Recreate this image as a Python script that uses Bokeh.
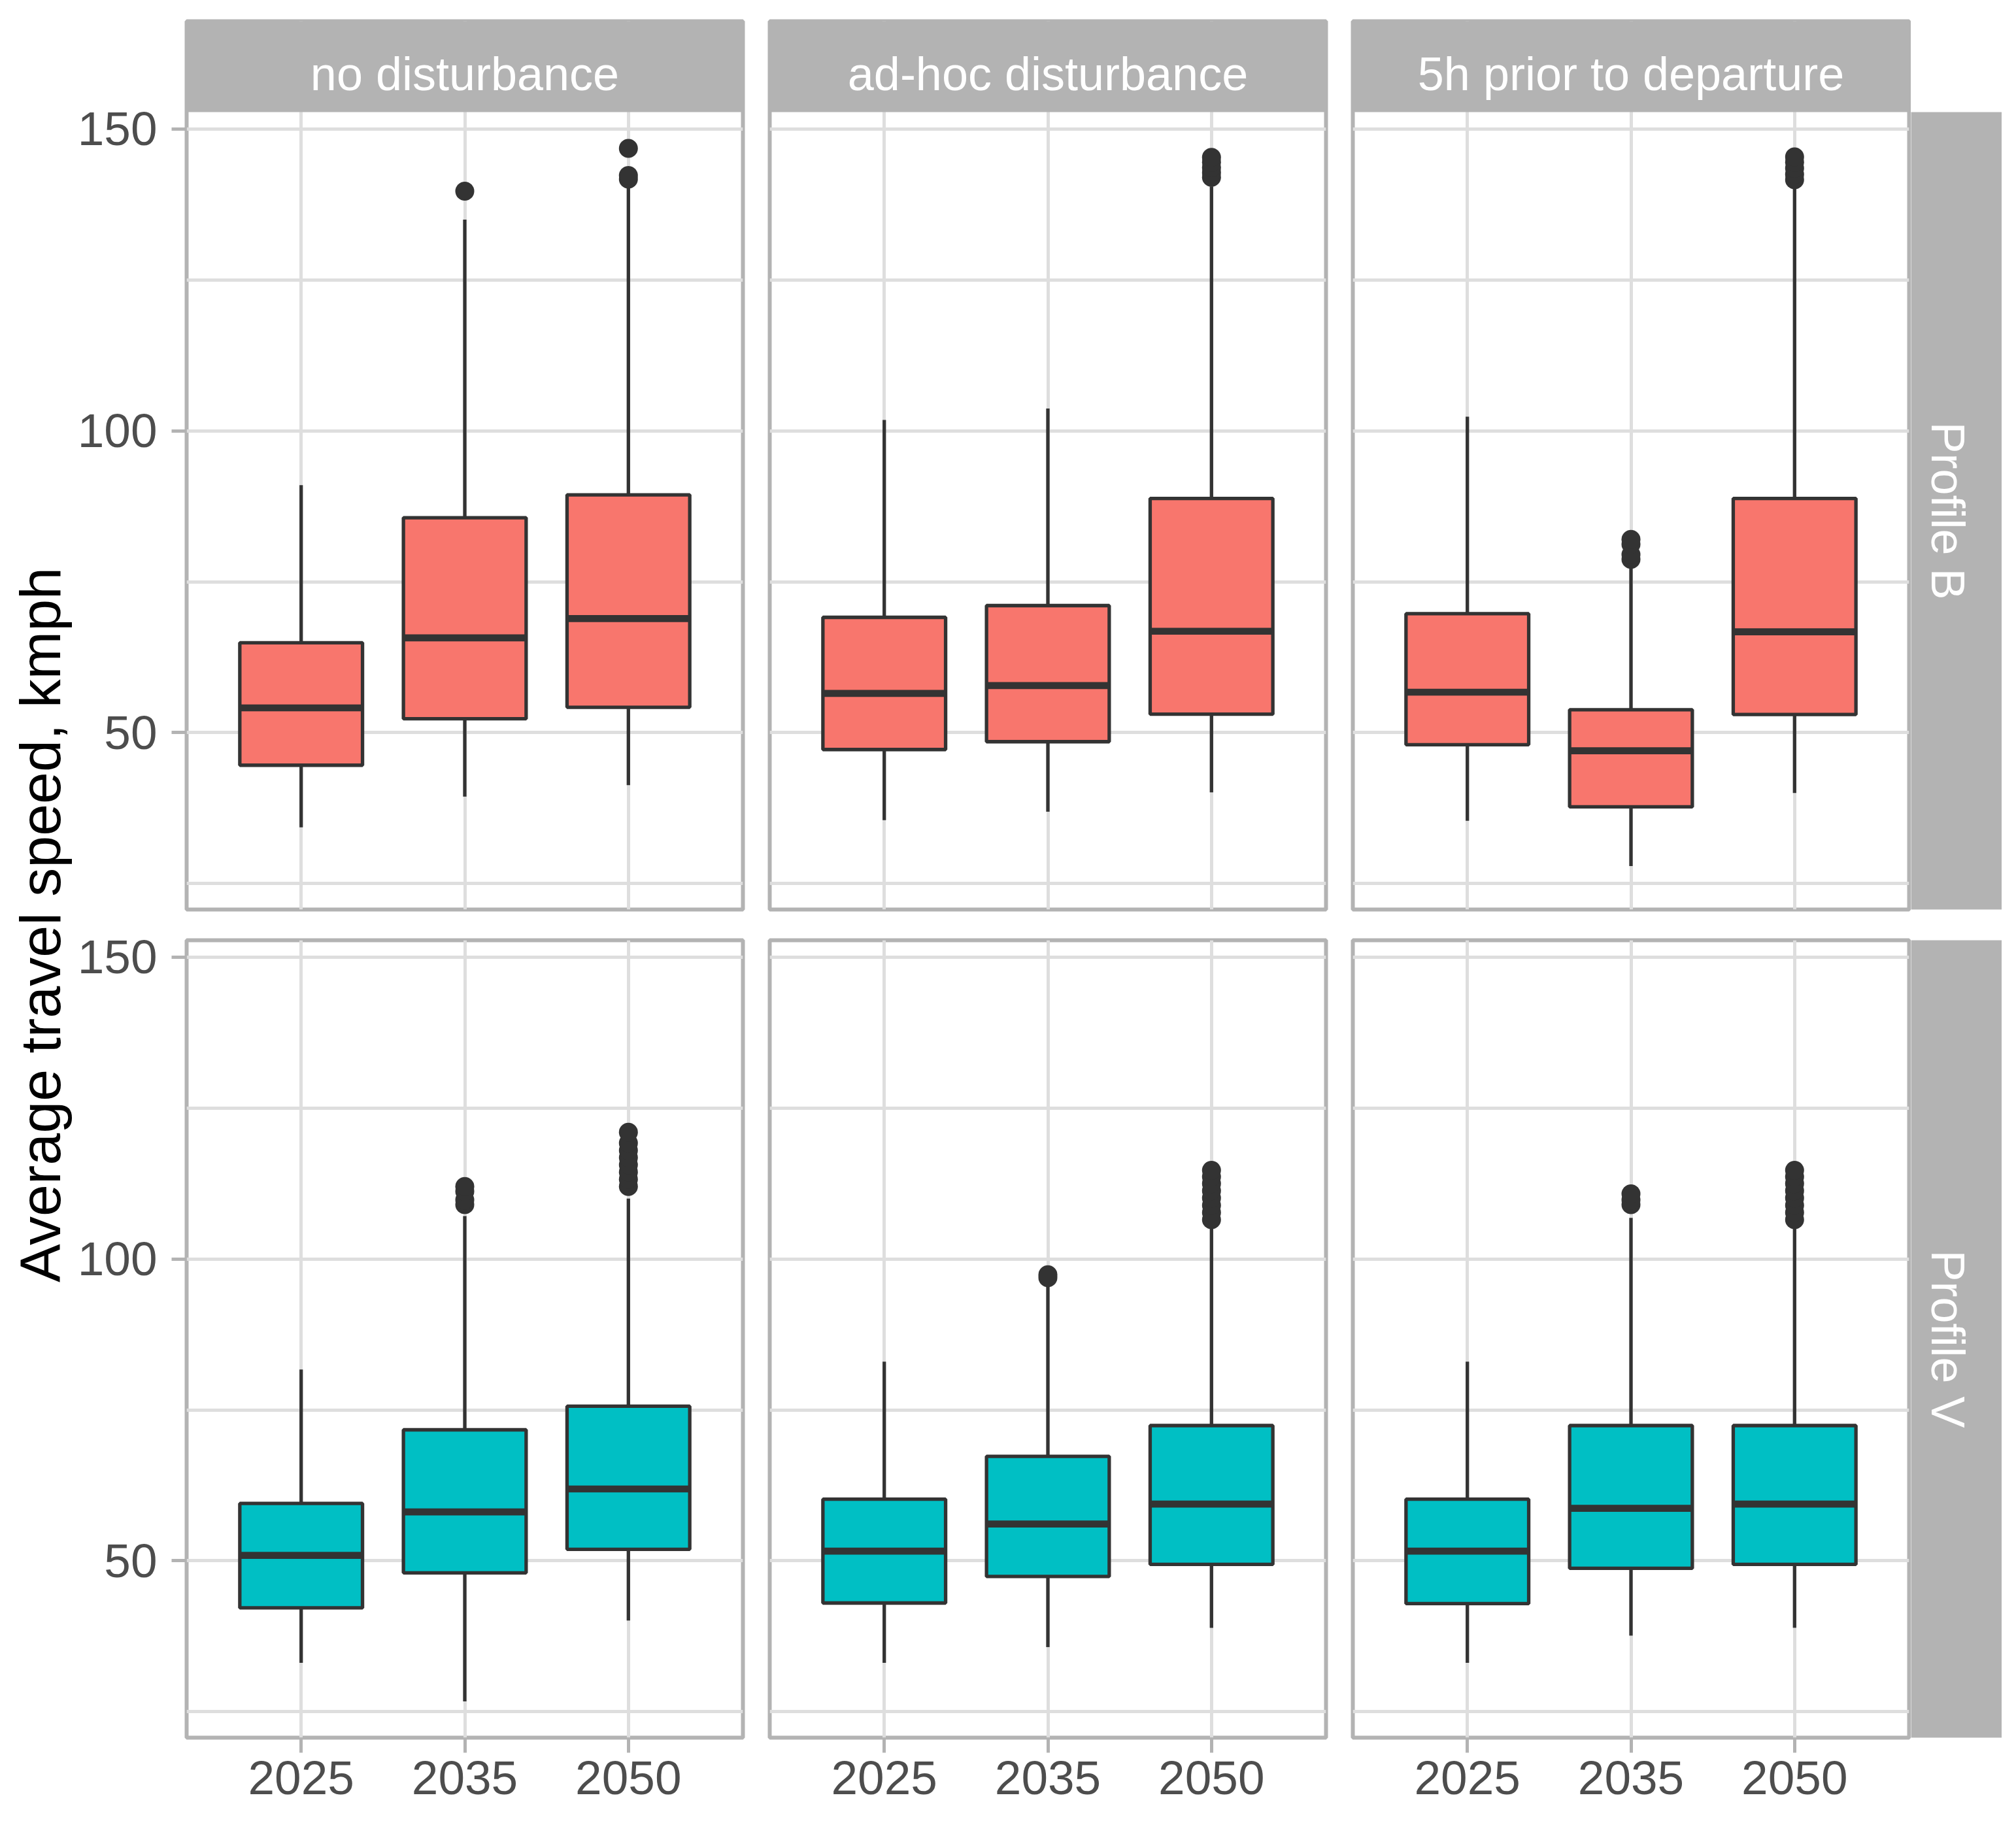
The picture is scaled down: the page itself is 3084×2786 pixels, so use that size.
import math
from bokeh.plotting import figure
from bokeh.models import Range1d, FactorRange, FixedTicker, ColumnDataSource, Spacer
from bokeh.layouts import row, column
from bokeh.transform import dodge
from bokeh.core.properties import value
from bokeh.embed import file_html
from bokeh.resources import INLINE

# ---------------- data ----------------
years = ["2025", "2035", "2050"]
disturbances = ["no disturbance", "ad-hoc disturbance", "5h prior to departure"]
profiles = ["Profile B", "Profile V"]
profile_colors = ["#F8766D", "#00BFC4"]
y_title = "Average travel speed, kmph"
y_ticks = [50, 100, 150]
y_minor_ticks = [25, 75, 125]

# box statistics, indexed [profile][disturbance][year]
lower = [
    [[34.3, 39.4, 41.3], [35.5, 36.9, 40.1], [35.4, 27.9, 40.0]],
    [[33.1, 26.7, 40.1], [33.1, 35.7, 38.9], [33.1, 37.6, 38.9]],
]
q1 = [
    [[44.6, 52.3, 54.2], [47.2, 48.5, 53.05], [48.0, 37.7, 53.0]],
    [[42.2, 48.0, 51.9], [43.0, 47.4, 49.4], [42.9, 48.75, 49.4]],
]
median = [
    [[54.1, 65.7, 68.9], [56.5, 57.8, 66.8], [56.7, 47.0, 66.7]],
    [[50.9, 58.1, 61.9], [51.6, 56.1, 59.4], [51.6, 58.7, 59.4]],
]
q3 = [
    [[64.9, 85.6, 89.4], [69.1, 71.05, 88.8], [69.7, 53.8, 88.8]],
    [[59.5, 71.7, 75.6], [60.2, 67.3, 72.4], [60.2, 72.4, 72.4]],
]
upper = [
    [[91.0, 135.0, 140.5], [101.8, 103.7, 140.5], [102.35, 77.5, 140.3]],
    [[81.7, 107.1, 110.0], [83.0, 95.8, 105.3], [83.0, 106.8, 105.3]],
]
outliers = [
    [
        [[], [139.7], [141.7, 142.3, 146.8]],
        [[], [], [142.0, 142.8, 143.6, 144.5, 145.3]],
        [[], [78.7, 79.5, 81.2, 82.0], [141.6, 142.5, 143.5, 144.5, 145.4]],
    ],
    [
        [[], [109.0, 109.8, 111.2, 112.0],
         [112.0, 113.2, 114.4, 115.6, 116.8, 118.0, 119.2, 121.0]],
        [[], [96.9, 97.4],
         [106.5, 107.7, 108.9, 110.1, 111.3, 112.5, 113.6, 114.7]],
        [[], [109.0, 109.8, 110.8],
         [106.5, 107.7, 108.9, 110.1, 111.3, 112.5, 113.6, 114.7]],
    ],
]

# ---------------- style / layout ----------------
FONT = "Liberation Sans"
LINE = "#333333"
GRID = "#DEDEDE"
BORDER = "#B3B3B3"
STRIP_BG = "#B3B3B3"
TICK_TXT = "#4D4D4D"

FRAME_W, FRAME_H = 851, 1220
STRIP = 139          # strip thickness
TOP = 32             # space above the top strips
LEFT = 171           # room for the y axis
BOTTOM = 122         # room for the x axis
YLAB_W = 114         # room for the y title
GAP_R, GAP_L = 20, 21  # horizontal gap between panels (split)
ROW1_BOTTOM, ROW2_TOP = 4, 43  # vertical gap between rows (split)
LAST_R = 3

# shared scales
vals = [v for arr in (lower, upper) for pr in arr for d in pr for v in d]
vals += [v for pr in outliers for d in pr for yl in d for v in yl]
vmin, vmax = min(vals), max(vals)
pad = 0.05 * (vmax - vmin)
y0, y1 = vmin - pad, vmax + pad
ppu = FRAME_H / (y1 - y0)                # pixels per data unit
y1_strip = y1 + STRIP / ppu              # top row frames also hold the strip
x_range = FactorRange(factors=years, range_padding=0.2, range_padding_units="absolute")
y_range_bottom = Range1d(y0, y1)
y_range_top = Range1d(y0, y1_strip)


def style_axis(ax, standoff):
    ax.axis_line_color = None
    ax.major_tick_line_color = BORDER
    ax.major_tick_line_width = 5
    ax.major_tick_out = 23
    ax.major_tick_in = 0
    ax.minor_tick_line_color = None
    ax.major_label_text_font = FONT
    ax.major_label_text_font_size = "73px"
    ax.major_label_text_color = TICK_TXT
    ax.major_label_standoff = standoff


def make_panel(pi, di):
    first_col = di == 0
    last_col = di == 2
    top_row = pi == 0
    left = LEFT if first_col else GAP_L
    right = LAST_R if last_col else GAP_R
    top = TOP if top_row else ROW2_TOP
    bottom = ROW1_BOTTOM if top_row else BOTTOM
    frame_h = FRAME_H + (STRIP if top_row else 0)
    p = figure(width=FRAME_W + left + right, height=frame_h + top + bottom,
               x_range=x_range,
               y_range=y_range_top if top_row else y_range_bottom,
               x_axis_location=None if top_row else "below",
               y_axis_location="left" if first_col else None,
               output_backend="svg", toolbar_location=None,
               min_border_left=left, min_border_right=right,
               min_border_top=top, min_border_bottom=bottom)
    p.background_fill_color = "white"
    p.border_fill_color = "white"
    p.outline_line_color = BORDER
    p.outline_line_width = 6
    p.ygrid.ticker = FixedTicker(ticks=y_ticks, minor_ticks=y_minor_ticks)
    p.ygrid.grid_line_color = GRID
    p.ygrid.grid_line_width = 5
    p.ygrid.minor_grid_line_color = GRID
    p.ygrid.minor_grid_line_width = 5
    p.xgrid.grid_line_color = GRID
    p.xgrid.grid_line_width = 5
    if first_col:
        p.yaxis.ticker = FixedTicker(ticks=y_ticks)
        style_axis(p.yaxis[0], 22)
    if not top_row:
        style_axis(p.xaxis[0], 13)

    src = ColumnDataSource(dict(
        x=years,
        lower=lower[pi][di], q1=q1[pi][di], med=median[pi][di],
        q3=q3[pi][di], upper=upper[pi][di],
    ))
    p.segment(x0="x", y0="q3", x1="x", y1="upper", source=src,
              line_color=LINE, line_width=5.3)
    p.segment(x0="x", y0="q1", x1="x", y1="lower", source=src,
              line_color=LINE, line_width=5.3)
    p.vbar(x="x", width=0.75, bottom="q1", top="q3", source=src,
           fill_color=profile_colors[pi], line_color=LINE, line_width=5.3)
    p.segment(x0=dodge("x", -0.375, range=x_range), y0="med",
              x1=dodge("x", 0.375, range=x_range), y1="med", source=src,
              line_color=LINE, line_width=10.7)
    ox, oy = [], []
    for yi, yr in enumerate(years):
        for v in outliers[pi][di][yi]:
            ox.append(yr)
            oy.append(v)
    if ox:
        p.scatter(x=ox, y=oy, size=29, fill_color=LINE, line_color=None)

    if top_row:
        # facet strip at the top of the frame
        mid = years[len(years) // 2]
        p.vbar(x=[mid], width=len(years) + 1, bottom=[y1], top=[y1_strip + 5],
               fill_color=STRIP_BG, line_color=None)
        p.text(x=[mid], y=[y1 + 59 / ppu], text=[disturbances[di]],
               text_align="center", text_baseline="middle",
               text_font=value(FONT), text_font_size=value("72px"),
               text_color="white")
    return p


def make_side_strip(label, top, bottom):
    s = figure(width=STRIP, height=FRAME_H + top + bottom,
               x_range=Range1d(0, 1), y_range=Range1d(0, 1),
               x_axis_location=None, y_axis_location=None,
               output_backend="svg", toolbar_location=None,
               min_border_left=0, min_border_right=0,
               min_border_top=top, min_border_bottom=bottom)
    s.grid.visible = False
    s.outline_line_color = None
    s.background_fill_color = STRIP_BG
    s.border_fill_color = "white"
    s.text(x=[0.41], y=[0.5], text=[label], angle=-math.pi / 2,
           text_align="center", text_baseline="middle",
           text_font=value(FONT), text_font_size=value("72px"),
           text_color="white")
    return s


cols = []
for di in range(3):
    cols.append(column(make_panel(0, di), make_panel(1, di)))
side = column(make_side_strip(profiles[0], TOP + STRIP, ROW1_BOTTOM),
              make_side_strip(profiles[1], ROW2_TOP, BOTTOM))

total_h = (TOP + STRIP + FRAME_H + ROW1_BOTTOM) + (ROW2_TOP + FRAME_H + BOTTOM)
ylab = figure(width=YLAB_W, height=total_h,
              x_range=Range1d(0, YLAB_W), y_range=Range1d(0, total_h),
              x_axis_location=None, y_axis_location=None,
              output_backend="svg", toolbar_location=None,
              min_border_left=0, min_border_right=0,
              min_border_top=0, min_border_bottom=0)
ylab.grid.visible = False
ylab.outline_line_color = None
row1_top = TOP + STRIP
row2_bottom = TOP + STRIP + FRAME_H + ROW1_BOTTOM + ROW2_TOP + FRAME_H
center_from_top = (row1_top + row2_bottom) / 2
ylab.text(x=[61], y=[total_h - center_from_top], text=[y_title],
          angle=math.pi / 2, text_align="center", text_baseline="middle",
          text_font=value(FONT), text_font_size=value("88px"),
          text_color="black")

layout = row(ylab, *cols, side)

open("out.html", "w").write(file_html(layout, INLINE))
